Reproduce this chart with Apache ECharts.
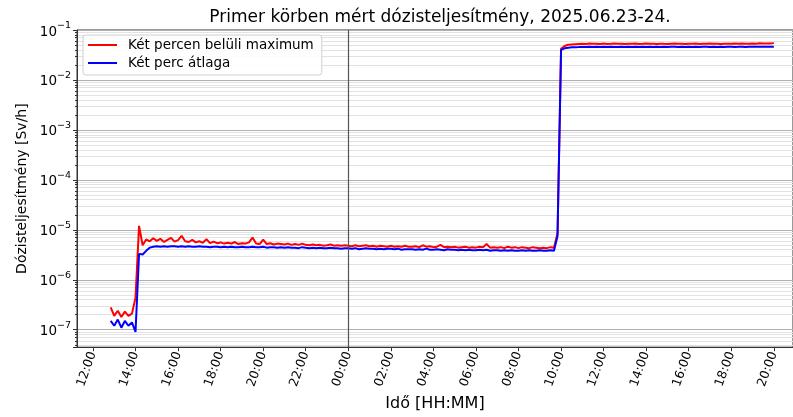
<!DOCTYPE html>
<html lang="hu">
<head>
<meta charset="UTF-8">
<title>Primer körben mért dózisteljesítmény</title>
<script src="https://cdn.jsdelivr.net/npm/echarts@6/dist/echarts.min.js"></script>
</head>
<body style="margin:0">
<div id="main" style="width:793px;height:417px"></div>
<script>
// mintavétel: 2025.06.23 12:50-tól 10 percenként, értékek µSv/h-ban
var sampleStart = new Date(2025, 5, 23, 12, 50).getTime();
var sampleStepMin = 10;
var midnight = new Date(2025, 5, 24, 0, 0).getTime();

// Két percen belüli maximum
var maxValues = [
    0.28,
    0.19, 0.24, 0.18, 0.23, 0.19, 0.21,   // 13
    0.44, 12.0, 4.9, 6.4, 5.9, 6.8,       // 14
    6.0, 6.6, 5.7, 6.3, 6.9, 5.8,         // 15
    6.2, 7.6, 5.9, 5.7, 6.3, 5.6,         // 16
    5.9, 5.5, 6.5, 5.4, 5.8, 5.4,         // 17
    5.6, 5.3, 5.5, 5.3, 5.7, 5.2,         // 18
    5.4, 5.3, 5.6, 7.0, 5.3, 5.2,         // 19
    6.4, 5.2, 5.4, 5.1, 5.3, 5.2,         // 20
    5.1, 5.3, 5.0, 5.2, 5.0, 5.3,         // 21
    5.0, 4.9, 5.1, 4.9, 5.0, 4.8,         // 22
    4.9, 5.1, 4.8, 4.9, 4.8, 4.9,         // 23
    4.8, 4.7, 4.9, 4.7, 4.8, 4.9,         // 00
    4.7, 4.8, 4.6, 4.8, 4.7, 4.6,         // 01
    4.8, 4.6, 4.7, 4.6, 4.8, 4.6,         // 02
    4.6, 4.7, 4.5, 4.9, 4.6, 4.7,         // 03
    4.5, 4.6, 5.0, 4.5, 4.6, 4.5,         // 04
    4.6, 4.4, 4.5, 4.6, 4.4, 4.5,         // 05
    4.4, 4.6, 4.5, 5.2, 4.4, 4.5,         // 06
    4.4, 4.5, 4.3, 4.6, 4.4, 4.5,         // 07
    4.3, 4.5, 4.4, 4.3, 4.5, 4.4,         // 08
    4.3, 4.4, 4.3, 4.5, 4.4, 8.5,         // 09
    42000, 48000, 50500, 51500, 52000, 52500,  // 10
    53000, 52500, 53500, 52800, 53200, 52600,  // 11
    53400, 52700, 53000, 53600, 52800, 53100,  // 12
    52600, 53300, 52900, 53500, 52700, 53000,  // 13
    53400, 52800, 53100, 52500, 53300, 52900,  // 14
    52700, 53200, 53600, 52800, 53000, 52600,  // 15
    53300, 52900, 53400, 52700, 53100, 52800,  // 16
    53500, 52900, 53200, 52700, 53300, 53000,  // 17
    52800, 53400, 53100, 53700, 52900, 53300,  // 18
    53600, 53100, 54000, 53400, 53800, 53500,  // 19
    54600
];

// Két perc átlaga
var avgValues = [
    0.15,
    0.12, 0.16, 0.11, 0.15, 0.12, 0.14,   // 13
    0.09, 3.3, 3.2, 3.8, 4.4, 4.6,        // 14
    4.7, 4.6, 4.7, 4.6, 4.7, 4.7,         // 15
    4.6, 4.7, 4.6, 4.7, 4.6, 4.6,         // 16
    4.7, 4.6, 4.6, 4.5, 4.6, 4.6,         // 17
    4.5, 4.6, 4.5, 4.6, 4.5, 4.5,         // 18
    4.6, 4.5, 4.5, 4.6, 4.5, 4.5,         // 19
    4.6, 4.4, 4.5, 4.5, 4.4, 4.5,         // 20
    4.4, 4.5, 4.4, 4.4, 4.3, 4.5,         // 21
    4.4, 4.3, 4.4, 4.3, 4.4, 4.3,         // 22
    4.3, 4.4, 4.3, 4.3, 4.2, 4.3,         // 23
    4.3, 4.2, 4.3, 4.1, 4.2, 4.3,         // 00
    4.2, 4.2, 4.1, 4.2, 4.1, 4.2,         // 01
    4.2, 4.1, 4.2, 4.0, 4.1, 4.1,         // 02
    4.1, 4.0, 4.1, 4.0, 4.2, 4.0,         // 03
    4.0, 4.1, 4.0, 3.9, 4.1, 4.0,         // 04
    4.0, 3.9, 4.0, 3.9, 4.0, 3.9,         // 05
    3.9, 4.0, 3.9, 4.0, 3.8, 3.9,         // 06
    3.9, 3.8, 3.9, 3.8, 3.9, 3.8,         // 07
    3.8, 3.9, 3.8, 3.9, 3.8, 3.8,         // 08
    3.9, 3.8, 3.8, 3.9, 3.8, 7.5,         // 09
    40000, 43000, 44200, 45000, 45400, 45600,  // 10
    45900, 45700, 46000, 45800, 46100, 45900,  // 11
    46000, 45800, 46100, 45900, 45800, 46000,  // 12
    45900, 46100, 45800, 46000, 45900, 46100,  // 13
    45800, 46000, 45900, 46100, 45800, 46000,  // 14
    45900, 46000, 46100, 45800, 46000, 45900,  // 15
    46100, 45900, 46000, 45800, 46000, 46100,  // 16
    45900, 46000, 45800, 46100, 45900, 46000,  // 17
    46100, 45900, 46000, 46200, 45900, 46100,  // 18
    46000, 46200, 46100, 46300, 46100, 46200,  // 19
    46400
];

var seriesNames = ['Két percen belüli maximum', 'Két perc átlaga'];

function toPoints(arr) {
    // µSv/h -> Sv/h
    return arr.map(function (v, i) {
        return [sampleStart + i * sampleStepMin * 60000, v * 1e-6];
    });
}

function pow10Label(v) {
    var lg = Math.log10(v);
    var e = Math.round(lg);
    if (Math.abs(lg - e) > 1e-6) return '';
    return '{b|10}{s|' + String(e).replace('-', '\u2212') + '}';
}

var font = 'DejaVu Sans';
var chart = echarts.init(document.getElementById('main'));

chart.setOption({
    animation: false,
    textStyle: {fontFamily: font, color: '#000'},
    title: {
        text: 'Primer körben mért dózisteljesítmény, 2025.06.23-24.',
        left: 435,
        textAlign: 'center',
        top: 4,
        textStyle: {fontFamily: font, fontSize: 17, fontWeight: 'normal', color: '#000'}
    },
    grid: {
        left: 77, right: 0, top: 30, bottom: 60,
        show: true, borderColor: '#333', borderWidth: 1
    },
    legend: {
        data: seriesNames,
        orient: 'vertical',
        left: 83,
        top: 35,
        icon: 'rect',
        itemWidth: 29,
        itemHeight: 2,
        itemGap: 4,
        padding: [3, 8, 5, 5],
        backgroundColor: 'rgba(255,255,255,0.85)',
        borderColor: '#d0d0d0',
        borderWidth: 1,
        borderRadius: 3,
        textStyle: {fontFamily: font, fontSize: 13.5, color: '#000', lineHeight: 14, padding: [0, 0, 0, 6]}
    },
    xAxis: {
        type: 'time',
        min: new Date(2025, 5, 23, 11, 15).getTime(),
        max: new Date(2025, 5, 24, 20, 54).getTime(),
        minInterval: 2.5 * 3600 * 1000,
        maxInterval: 2.5 * 3600 * 1000,
        name: 'Idő [HH:MM]',
        nameLocation: 'middle',
        nameGap: 46,
        nameTextStyle: {fontFamily: font, fontSize: 16, color: '#000'},
        axisLine: {lineStyle: {color: '#333'}},
        axisTick: {show: true, length: 4, lineStyle: {color: '#333'}},
        axisLabel: {
            rotate: 70,
            margin: 5,
            fontFamily: font,
            fontSize: 12.5,
            color: '#000',
            hideOverlap: false,
            formatter: function (v) {
                var d = new Date(v);
                return String(d.getHours()).padStart(2, '0') + ':' + String(d.getMinutes()).padStart(2, '0');
            }
        },
        splitLine: {show: false}
    },
    yAxis: {
        type: 'log',
        logBase: 10,
        min: 4.47e-8,
        max: 0.1,
        name: 'Dózisteljesítmény [Sv/h]',
        nameLocation: 'middle',
        nameGap: 41,
        nameTextStyle: {fontFamily: font, fontSize: 14, color: '#000'},
        axisLine: {show: true, lineStyle: {color: '#333'}},
        axisTick: {show: true, length: 4, lineStyle: {color: '#333'}},
        minorTick: {show: true, splitNumber: 9, length: 2, lineStyle: {color: '#333'}},
        minorSplitLine: {show: true, lineStyle: {color: '#e2e2e2', width: 1}},
        splitLine: {show: true, lineStyle: {color: '#b0b0b0', width: 1}},
        axisLabel: {
            fontFamily: font,
            color: '#000',
            margin: 6,
            showMinLabel: false,
            formatter: pow10Label,
            rich: {
                b: {fontFamily: font, fontSize: 13.5, color: '#000', lineHeight: 18, verticalAlign: 'bottom'},
                s: {fontFamily: font, fontSize: 9.5, color: '#000', lineHeight: 18, verticalAlign: 'top'}
            }
        }
    },
    series: [
        {
            name: seriesNames[0],
            type: 'line',
            data: toPoints(maxValues),
            showSymbol: false,
            symbol: 'none',
            lineStyle: {color: '#ff0000', width: 2},
            itemStyle: {color: '#ff0000'},
            markLine: {
                silent: true,
                symbol: 'none',
                label: {show: false},
                lineStyle: {color: '#555', width: 1.2, type: 'solid'},
                data: [{xAxis: midnight}]
            }
        },
        {
            name: seriesNames[1],
            type: 'line',
            data: toPoints(avgValues),
            showSymbol: false,
            symbol: 'none',
            lineStyle: {color: '#0000ff', width: 2},
            itemStyle: {color: '#0000ff'}
        }
    ]
});
</script>
</body>
</html>
